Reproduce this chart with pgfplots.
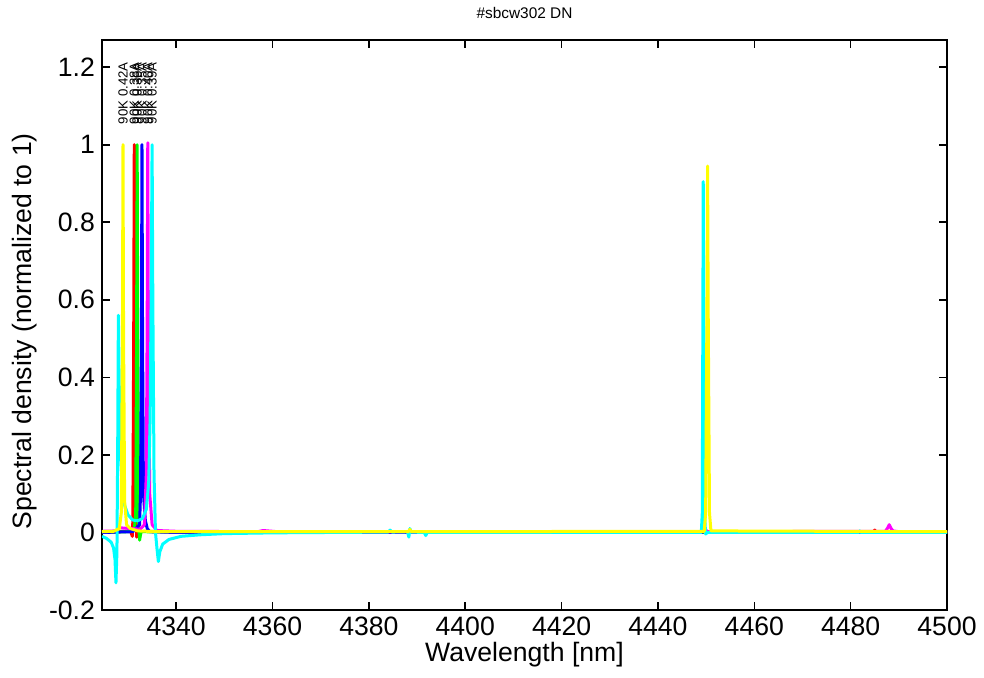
\documentclass[border=0pt]{standalone}
\usepackage{fontspec}
\setmainfont{Liberation Sans}
\usepackage{pgfplots}
\pgfplotsset{compat=1.18}
\definecolor{gpred}{RGB}{255,0,0}
\definecolor{gpgreen}{RGB}{0,255,0}
\definecolor{gpblue}{RGB}{0,0,255}
\definecolor{gpmagenta}{RGB}{255,0,255}
\definecolor{gpcyan}{RGB}{0,255,255}
\definecolor{gpyellow}{RGB}{255,255,0}

\begin{document}
\begin{tikzpicture}
\path[use as bounding box] (-51pt,-33.5pt) rectangle (441pt,305pt);
\begin{axis}[
    scale only axis,
    width=422.5pt, height=285pt,
    xmin=4324.6, xmax=4500,
    ymin=-0.2, ymax=1.27,
    clip mode=individual,
    xtick={4340,4360,4380,4400,4420,4440,4460,4480,4500},
    ytick={-0.2,0,0.2,0.4,0.6,0.8,1,1.2},
    tick align=inside,
    major tick length=4pt,
    axis line style={line width=1pt},
    tick style={line width=0.8pt, black},
    /pgf/number format/assume math mode=true,
    ticklabel style={font=\fontsize{13.3}{16}\selectfont},
    xticklabel style={/pgf/number format/1000 sep={}},
    yticklabel style={/pgf/number format/fixed, /pgf/number format/precision=1},
    xlabel={Wavelength [nm]},
    ylabel={Spectral density (normalized to 1)},
    label style={font=\fontsize{13.3}{16}\selectfont},
    xlabel style={at={(axis description cs:0.5,-0.079)}, anchor=center},
    ylabel style={at={(axis description cs:-0.092,0.489)}, anchor=center},
    every axis plot/.append style={line width=1.5pt, line join=round},
]
% red
\addplot[gpred] coordinates {
(4324.6,0.001)(4328,0.002)(4330.5,0.004)(4330.9,-0.01)(4331.0,0.03)(4331.18,0.5)(4331.3,1.0)(4331.42,0.5)(4331.6,0.05)(4331.8,-0.012)(4332.3,0.002)(4334,0.003)(4340,0.001)(4400,0.001)(4484.6,0.001)(4485.0,0.006)(4485.4,0.001)(4500,0.001)
};
% green
\addplot[gpgreen] coordinates {
(4324.6,0.0)(4330,0.002)(4331.3,0.006)(4331.6,0.05)(4331.78,0.5)(4331.9,1.0)(4332.02,0.5)(4332.2,0.03)(4332.4,-0.02)(4332.7,0.002)(4340,0.001)(4482,0.0)(4500,0.0)
};
% blue
\addplot[gpblue] coordinates {
(4324.6,0.0)(4331,0.002)(4332.4,0.02)(4332.6,0.1)(4332.78,0.5)(4332.9,1.0)(4333.02,0.5)(4333.2,0.1)(4333.6,0.03)(4334,0.01)(4334.5,0.002)(4340,0.0)(4449,0.0)(4449.9,0.004)(4450.3,0.0)(4500,0.0)
};
% magenta
\addplot[gpmagenta] coordinates {
(4324.6,0.003)(4327.5,0.004)(4328.2,0.012)(4331,0.01)(4332.5,0.008)(4333.4,0.02)(4333.8,0.15)(4333.98,0.55)(4334.1,1.005)(4334.22,0.55)(4334.5,0.1)(4335,0.02)(4336,0.005)(4340,0.003)(4357,0.002)(4358,0.005)(4360,0.003)(4361,0.002)(4449.8,0.002)(4450.0,0.006)(4450.2,0.002)(4487.2,0.003)(4487.7,0.012)(4488.0,0.02)(4488.4,0.01)(4488.8,0.004)(4490,0.002)(4500,0.002)
};
% cyan
\addplot[gpcyan] coordinates {
(4324.6,-0.01)(4325.5,-0.015)(4326.5,-0.025)(4327.0,-0.04)(4327.3,-0.07)(4327.5,-0.13)(4327.7,-0.05)(4327.85,0.2)(4328.0,0.56)(4328.15,0.4)(4328.4,0.22)(4328.8,0.12)(4329.3,0.07)(4330,0.045)(4331,0.032)(4332,0.03)(4333,0.036)(4333.8,0.06)(4334.3,0.13)(4334.6,0.3)(4334.85,0.7)(4335.0,1.0)(4335.15,0.6)(4335.4,0.15)(4335.7,0.0)(4336.0,-0.04)(4336.3,-0.075)(4336.6,-0.05)(4337.2,-0.03)(4338.5,-0.018)(4341,-0.01)(4345,-0.006)(4350,-0.003)(4360,-0.001)(4384,0.001)(4384.4,0.006)(4384.8,0.001)(4388,0.002)(4388.3,-0.012)(4388.5,0.01)(4388.8,0.001)(4391.5,0.0)(4391.8,-0.008)(4392.1,0.0)(4449.0,0.0)(4449.2,0.05)(4449.32,0.55)(4449.4,0.905)(4449.5,0.55)(4449.65,0.05)(4449.9,-0.004)(4450.3,0.0)(4481.7,0.0)(4481.9,0.004)(4482.1,0.0)(4500,0.0)
};
% yellow
\addplot[gpyellow] coordinates {
(4324.6,0.002)(4327,0.003)(4328.2,0.01)(4328.6,0.05)(4328.84,0.5)(4328.96,1.0)(4329.08,0.5)(4329.3,0.08)(4329.7,0.02)(4330.5,0.01)(4332,0.004)(4336,0.002)(4340,0.002)(4388.2,0.002)(4388.5,0.008)(4388.8,0.002)(4449.6,0.003)(4449.9,0.05)(4450.16,0.55)(4450.3,0.945)(4450.44,0.55)(4450.7,0.05)(4451.0,0.004)(4500,0.002)
};
\begin{scope}[every node/.style={rotate=90, anchor=west, inner sep=0pt, font=\fontsize{6.6}{7}\selectfont}]
\node at (axis cs:4328.96,1.052) {90K 0.42A};
\node at (axis cs:4331.3,1.052) {90K 0.38A};
\node at (axis cs:4331.9,1.052) {90K 0.36A};
\node at (axis cs:4332.9,1.052) {90K 0.35A};
\node at (axis cs:4334.1,1.052) {90K 0.40A};
\node at (axis cs:4335.0,1.052) {90K 0.39A};
\end{scope}
\node[font=\fontsize{7.7}{9}\selectfont, anchor=center] at (axis description cs:0.5,1.047) {\#sbcw302 DN};
\end{axis}
\end{tikzpicture}
\end{document}
